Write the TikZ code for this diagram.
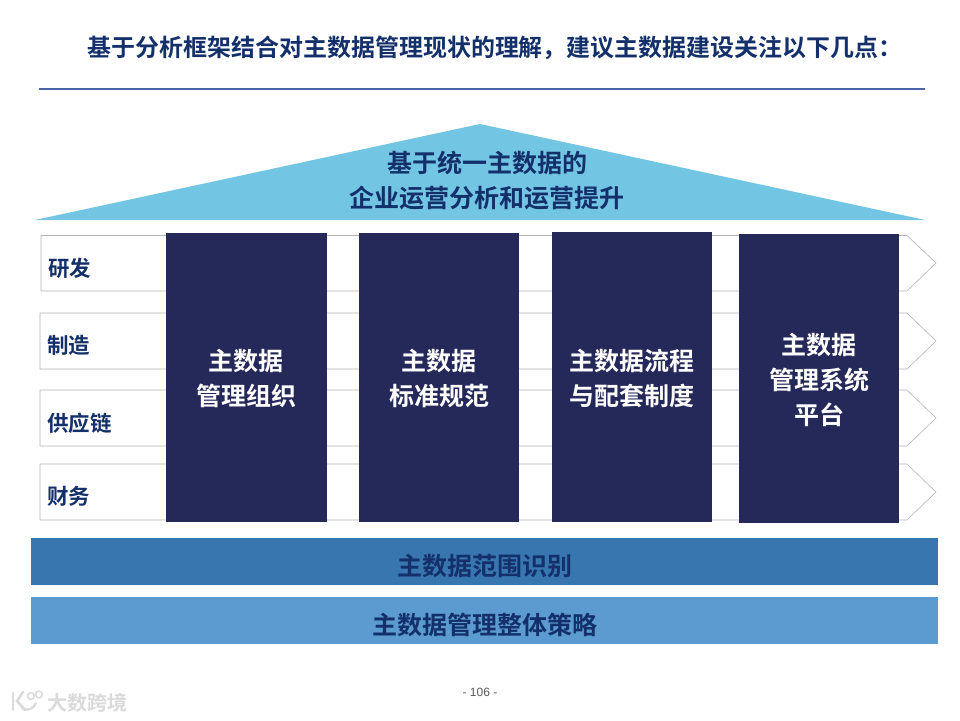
\documentclass[tikz,border=0pt]{standalone}
\usepackage{fontspec}
\setmainfont{Noto Sans CJK SC}[BoldFont={* Bold}]
\setsansfont{Liberation Sans}
\definecolor{navy}{HTML}{25295A}
\definecolor{ttl}{HTML}{14306A}
\definecolor{rulec}{HTML}{4A66A8}
\definecolor{roof}{HTML}{72C5E3}
\definecolor{band1}{HTML}{3876B0}
\definecolor{band2}{HTML}{5B9BD0}
\definecolor{lane}{HTML}{B4B4B4}
\definecolor{wm}{HTML}{DADADA}
\tikzset{
 x=1pt,y=-1pt,
 pillartxt/.style={text=white,font=\fontsize{25}{35}\selectfont\bfseries,align=center,inner sep=0},
 rooftxt/.style={text=ttl,font=\fontsize{25}{35}\selectfont\bfseries,align=center,inner sep=0},
 lanetxt/.style={text=ttl,font=\fontsize{21.5}{24}\selectfont\bfseries,anchor=west,inner sep=0},
 bandtxt/.style={text=ttl,font=\fontsize{25}{30}\selectfont\bfseries,inner sep=0},
 lanebox/.style={draw=lane,line width=.6pt,fill=white},
}
\begin{document}
\begin{tikzpicture}
\useasboundingbox (0,0) rectangle (960,720);
\fill[white] (0,0) rectangle (960,720);
\node[text=ttl,font=\fontsize{23.95}{28}\selectfont\bfseries,inner sep=0] (title) at (495,48) {基于分析框架结合对主数据管理现状的理解，建议主数据建设关注以下几点：};
\coordinate (r1) at (39,89); \coordinate (r2) at (925,89);
\draw[rulec,line width=1.8pt] (r1) -- (r2);
\fill[roof] (35,220) -- (480,124) -- (925,220) -- cycle;
\node[rooftxt] (rooft) at (487,180.5) {基于统一主数据的\\企业运营分析和运营提升};
\foreach \l/\a/\b/\c in {41/235.5/291/263,40/313/369/341,40/390/446/418,40/464/520/492}{
 \draw[lanebox] (\l,\a) -- (907,\a) -- (936,\c) -- (907,\b) -- (\l,\b) -- cycle;
}
\node[lanetxt] (l1) at (48,268) {研发};
\node[lanetxt] (l2) at (47,345) {制造};
\node[lanetxt] (l3) at (47,423.5) {供应链};
\node[lanetxt] (l4) at (47,496.5) {财务};
\fill[navy] (166,233) rectangle (327,522);
\fill[navy] (359,233) rectangle (519,522);
\fill[navy] (552,232) rectangle (712,522);
\fill[navy] (739,234) rectangle (899,523);
\node[pillartxt] (p1) at (246,378.5) {主数据\\管理组织};
\node[pillartxt] (p2) at (439,378.5) {主数据\\标准规范};
\node[pillartxt] (p3) at (632,378.5) {主数据流程\\与配套制度};
\node[pillartxt] (p4) at (819,379.5) {主数据\\管理系统\\平台};
\fill[band1] (31,538) rectangle (938,585);
\fill[band2] (31,597) rectangle (938,644);
\node[bandtxt] (b1) at (484.5,566) {主数据范围识别};
\node[bandtxt] (b2) at (484.5,625) {主数据管理整体策略};
\node[font=\sffamily\fontsize{12}{14}\selectfont,text=black!65,inner sep=0] (pg) at (480,692) {- 106 -};
% watermark
\draw[wm,line width=2.6pt,line cap=round] (13,693) -- (13,710);
\draw[wm,line width=2.6pt,line cap=round] (23,692) -- (17,701) -- (25,710);
\draw[wm,line width=2.2pt,line cap=round] (22,708) .. controls (28,712) and (34,708) .. (36,703);
\draw[wm,line width=1.5pt] (31,696) circle (3.4);
\draw[wm,line width=1.5pt] (39,694.5) circle (3.4);
\node[text=wm,font=\fontsize{20}{22}\selectfont\bfseries,anchor=west,inner sep=0] (wmt) at (47,703) {大数跨境};
\end{tikzpicture}
\end{document}
